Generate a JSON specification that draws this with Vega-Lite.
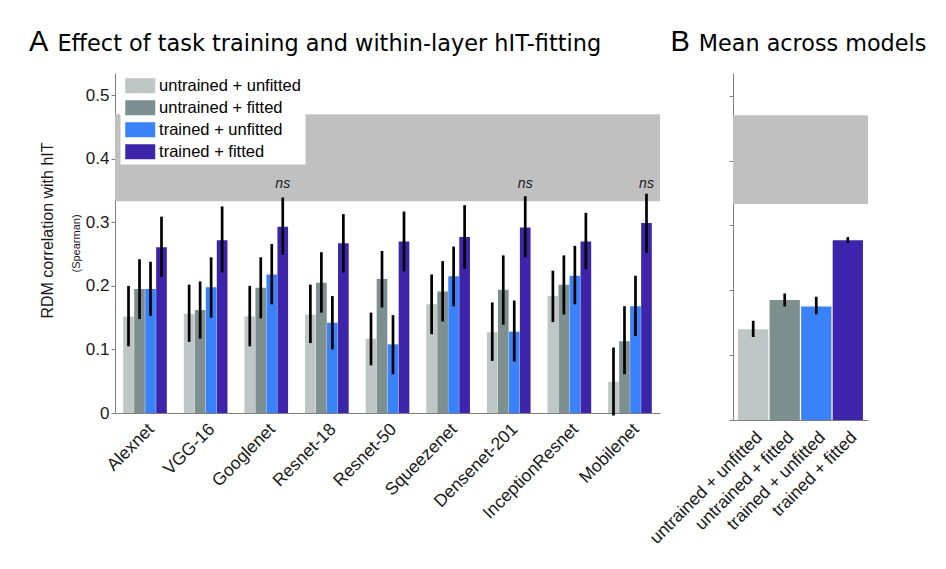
{
  "$schema": "https://vega.github.io/schema/vega-lite/v6.json",
  "background": "white",
  "padding": {"left": 29, "top": 28, "right": 10, "bottom": 8},
  "config": {
    "view": {"stroke": null},
    "font": "Liberation Sans",
    "axis": {
      "domainColor": "#7f7f7f",
      "tickColor": "#7f7f7f",
      "labelColor": "#1a1a1a",
      "titleColor": "#1a1a1a",
      "labelFont": "Liberation Sans",
      "titleFont": "Liberation Sans",
      "titleFontWeight": "normal",
      "grid": false,
      "labelFontSize": 17
    }
  },
  "datasets": {
    "models": [
      {"model": "Alexnet", "condition": "untrained + unfitted", "value": 0.152, "lo": 0.105, "hi": 0.200},
      {"model": "Alexnet", "condition": "untrained + fitted", "value": 0.195, "lo": 0.148, "hi": 0.242},
      {"model": "Alexnet", "condition": "trained + unfitted", "value": 0.195, "lo": 0.153, "hi": 0.238},
      {"model": "Alexnet", "condition": "trained + fitted", "value": 0.261, "lo": 0.214, "hi": 0.309},
      {"model": "VGG-16", "condition": "untrained + unfitted", "value": 0.156, "lo": 0.112, "hi": 0.202},
      {"model": "VGG-16", "condition": "untrained + fitted", "value": 0.162, "lo": 0.117, "hi": 0.207},
      {"model": "VGG-16", "condition": "trained + unfitted", "value": 0.198, "lo": 0.150, "hi": 0.245},
      {"model": "VGG-16", "condition": "trained + fitted", "value": 0.272, "lo": 0.221, "hi": 0.325},
      {"model": "Googlenet", "condition": "untrained + unfitted", "value": 0.152, "lo": 0.105, "hi": 0.200},
      {"model": "Googlenet", "condition": "untrained + fitted", "value": 0.197, "lo": 0.149, "hi": 0.245},
      {"model": "Googlenet", "condition": "trained + unfitted", "value": 0.218, "lo": 0.171, "hi": 0.266},
      {"model": "Googlenet", "condition": "trained + fitted", "value": 0.293, "lo": 0.249, "hi": 0.339},
      {"model": "Resnet-18", "condition": "untrained + unfitted", "value": 0.155, "lo": 0.110, "hi": 0.202},
      {"model": "Resnet-18", "condition": "untrained + fitted", "value": 0.205, "lo": 0.158, "hi": 0.253},
      {"model": "Resnet-18", "condition": "trained + unfitted", "value": 0.142, "lo": 0.100, "hi": 0.184},
      {"model": "Resnet-18", "condition": "trained + fitted", "value": 0.267, "lo": 0.221, "hi": 0.313},
      {"model": "Resnet-50", "condition": "untrained + unfitted", "value": 0.117, "lo": 0.075, "hi": 0.158},
      {"model": "Resnet-50", "condition": "untrained + fitted", "value": 0.211, "lo": 0.166, "hi": 0.255},
      {"model": "Resnet-50", "condition": "trained + unfitted", "value": 0.108, "lo": 0.061, "hi": 0.154},
      {"model": "Resnet-50", "condition": "trained + fitted", "value": 0.270, "lo": 0.223, "hi": 0.317},
      {"model": "Squeezenet", "condition": "untrained + unfitted", "value": 0.171, "lo": 0.124, "hi": 0.218},
      {"model": "Squeezenet", "condition": "untrained + fitted", "value": 0.191, "lo": 0.144, "hi": 0.239},
      {"model": "Squeezenet", "condition": "trained + unfitted", "value": 0.215, "lo": 0.168, "hi": 0.262},
      {"model": "Squeezenet", "condition": "trained + fitted", "value": 0.277, "lo": 0.227, "hi": 0.327},
      {"model": "Densenet-201", "condition": "untrained + unfitted", "value": 0.127, "lo": 0.082, "hi": 0.174},
      {"model": "Densenet-201", "condition": "untrained + fitted", "value": 0.194, "lo": 0.139, "hi": 0.248},
      {"model": "Densenet-201", "condition": "trained + unfitted", "value": 0.128, "lo": 0.081, "hi": 0.177},
      {"model": "Densenet-201", "condition": "trained + fitted", "value": 0.292, "lo": 0.245, "hi": 0.341},
      {"model": "InceptionResnet", "condition": "untrained + unfitted", "value": 0.184, "lo": 0.143, "hi": 0.224},
      {"model": "InceptionResnet", "condition": "untrained + fitted", "value": 0.202, "lo": 0.155, "hi": 0.248},
      {"model": "InceptionResnet", "condition": "trained + unfitted", "value": 0.216, "lo": 0.171, "hi": 0.263},
      {"model": "InceptionResnet", "condition": "trained + fitted", "value": 0.270, "lo": 0.226, "hi": 0.315},
      {"model": "Mobilenet", "condition": "untrained + unfitted", "value": 0.049, "lo": -0.004, "hi": 0.103},
      {"model": "Mobilenet", "condition": "untrained + fitted", "value": 0.113, "lo": 0.061, "hi": 0.168},
      {"model": "Mobilenet", "condition": "trained + unfitted", "value": 0.168, "lo": 0.121, "hi": 0.216},
      {"model": "Mobilenet", "condition": "trained + fitted", "value": 0.299, "lo": 0.252, "hi": 0.345}
    ],
    "ns": [
      {"model": "Googlenet", "condition": "trained + fitted", "label": "ns"},
      {"model": "Densenet-201", "condition": "trained + fitted", "label": "ns"},
      {"model": "Mobilenet", "condition": "trained + fitted", "label": "ns"}
    ],
    "means": [
      {"condition": "untrained + unfitted", "value": 0.140, "lo": 0.128, "hi": 0.153},
      {"condition": "untrained + fitted", "value": 0.185, "lo": 0.175, "hi": 0.195},
      {"condition": "trained + unfitted", "value": 0.175, "lo": 0.163, "hi": 0.190},
      {"condition": "trained + fitted", "value": 0.277, "lo": 0.273, "hi": 0.282}
    ],
    "band": [{"lo": 0.333, "hi": 0.470}]
  },
  "bounds": "flush",
  "spacing": 73,
  "hconcat": [
    {
      "width": 545,
      "height": 340,
      "title": {
        "text": "A",
        "subtitle": "\u200b\u00a0\u00a0\u00a0\u00a0Effect of task training and within-layer hIT-fitting",
        "anchor": "start",
        "frame": "group",
        "dx": -86,
        "font": "Liberation Sans",
        "fontSize": 29,
        "fontWeight": "normal",
        "color": "black",
        "subtitleFont": "DejaVu Sans",
        "subtitleFontSize": 22.4,
        "subtitleColor": "black",
        "subtitlePadding": -24.3,
        "offset": 16
      },
      "resolve": {"scale": {"y": "independent"}},
      "layer": [
        {
          "data": {"name": "band"},
          "mark": {"type": "rect", "color": "#c0c0c0"},
          "encoding": {
            "y": {
              "field": "lo", "type": "quantitative",
              "scale": {"domain": [0, 0.535], "nice": false},
              "axis": {"title": "RDM correlation with hIT", "orient": "left", "labels": false, "ticks": false, "domain": false, "titlePadding": 60, "titleFontSize": 16, "titleY": 157}
            },
            "y2": {"field": "hi"}
          }
        },
        {
          "layer": [
            {
              "data": {"name": "models"},
              "mark": {"type": "bar"},
              "encoding": {
                "x": {
                  "field": "model", "type": "nominal",
                  "scale": {"domain": ["Alexnet", "VGG-16", "Googlenet", "Resnet-18", "Resnet-50", "Squeezenet", "Densenet-201", "InceptionResnet", "Mobilenet"], "paddingInner": 0.28, "paddingOuter": 0.135},
                  "axis": {"title": null, "labelAngle": -45, "labelFontSize": 17.5, "ticks": false, "labelPadding": 7}
                },
                "xOffset": {
                  "field": "condition", "type": "nominal",
                  "scale": {"domain": ["untrained + unfitted", "untrained + fitted", "trained + unfitted", "trained + fitted"], "paddingInner": 0.03, "paddingOuter": 0}
                },
                "y": {
                  "field": "value", "type": "quantitative", "title": "(Spearman)",
                  "scale": {"domain": [0, 0.535], "nice": false},
                  "axis": {"orient": "left", "values": [0, 0.1, 0.2, 0.3, 0.4, 0.5], "format": "~g", "tickSize": 4, "titleFontSize": 11, "titlePadding": 4}
                },
                "color": {
                  "field": "condition", "type": "nominal",
                  "scale": {"domain": ["untrained + unfitted", "untrained + fitted", "trained + unfitted", "trained + fitted"], "range": ["#bec6c6", "#7e8f8f", "#3982fa", "#3e24aa"]},
                  "legend": {"title": null, "orient": "none", "legendX": 5.5, "legendY": 0.5, "fillColor": "white", "padding": 4, "symbolType": "M-2,-1H2V1H-2Z", "symbolSize": 225, "symbolOffset": 7.5, "symbolStrokeWidth": 0, "symbolOpacity": 1, "labelFontSize": 16.5, "labelOffset": 10.6, "rowPadding": 5, "labelColor": "black", "labelFont": "Liberation Sans"}
                }
              }
            },
            {
              "data": {"name": "models"},
              "mark": {"type": "rule", "strokeWidth": 2.7, "color": "black"},
              "encoding": {
                "x": {"field": "model", "type": "nominal"},
                "xOffset": {"field": "condition", "type": "nominal"},
                "y": {"field": "lo", "type": "quantitative", "title": "(Spearman)"},
                "y2": {"field": "hi"}
              }
            },
            {
              "data": {"name": "ns"},
              "mark": {"type": "text", "fontStyle": "italic", "fontSize": 14, "font": "Liberation Sans", "baseline": "middle", "color": "#1a1a1a"},
              "encoding": {
                "x": {"field": "model", "type": "nominal"},
                "xOffset": {"field": "condition", "type": "nominal"},
                "y": {"datum": 0.36, "type": "quantitative", "title": "(Spearman)"},
                "text": {"field": "label"}
              }
            }
          ]
        }
      ]
    },
    {
      "width": 135,
      "height": 347,
      "title": {
        "text": "B",
        "subtitle": "\u200b\u00a0\u00a0\u00a0\u00a0Mean across models",
        "anchor": "start",
        "frame": "group",
        "dx": -62.5,
        "font": "Liberation Sans",
        "fontSize": 29,
        "fontWeight": "normal",
        "color": "black",
        "subtitleFont": "DejaVu Sans",
        "subtitleFontSize": 22.3,
        "subtitleColor": "black",
        "subtitlePadding": -24.3,
        "offset": 16
      },
      "layer": [
        {
          "data": {"name": "band"},
          "mark": {"type": "rect", "color": "#c0c0c0"},
          "encoding": {
            "y": {"field": "lo", "type": "quantitative", "title": null, "scale": {"domain": [0, 0.535], "nice": false}},
            "y2": {"field": "hi"}
          }
        },
        {
          "data": {"name": "means"},
          "mark": {"type": "bar"},
          "encoding": {
            "x": {
              "field": "condition", "type": "nominal",
              "scale": {"domain": ["untrained + unfitted", "untrained + fitted", "trained + unfitted", "trained + fitted"], "paddingInner": 0.04, "paddingOuter": 0.16},
              "axis": {"title": null, "labelAngle": -45, "labelFontSize": 17.5, "ticks": false, "labelPadding": 8}
            },
            "y": {
              "field": "value", "type": "quantitative", "title": null,
              "scale": {"domain": [0, 0.535], "nice": false},
              "axis": {"values": [0, 0.1, 0.2, 0.3, 0.4, 0.5], "labels": false, "tickSize": 4}
            },
            "color": {
              "field": "condition", "type": "nominal",
              "scale": {"domain": ["untrained + unfitted", "untrained + fitted", "trained + unfitted", "trained + fitted"], "range": ["#c0c8c8", "#869999", "#4a8aff", "#5039b2"]},
              "legend": null
            }
          }
        },
        {
          "data": {"name": "means"},
          "mark": {"type": "rule", "strokeWidth": 2.7, "color": "black"},
          "encoding": {
            "x": {"field": "condition", "type": "nominal"},
            "y": {"field": "lo", "type": "quantitative", "title": null},
            "y2": {"field": "hi"}
          }
        }
      ]
    }
  ]
}
